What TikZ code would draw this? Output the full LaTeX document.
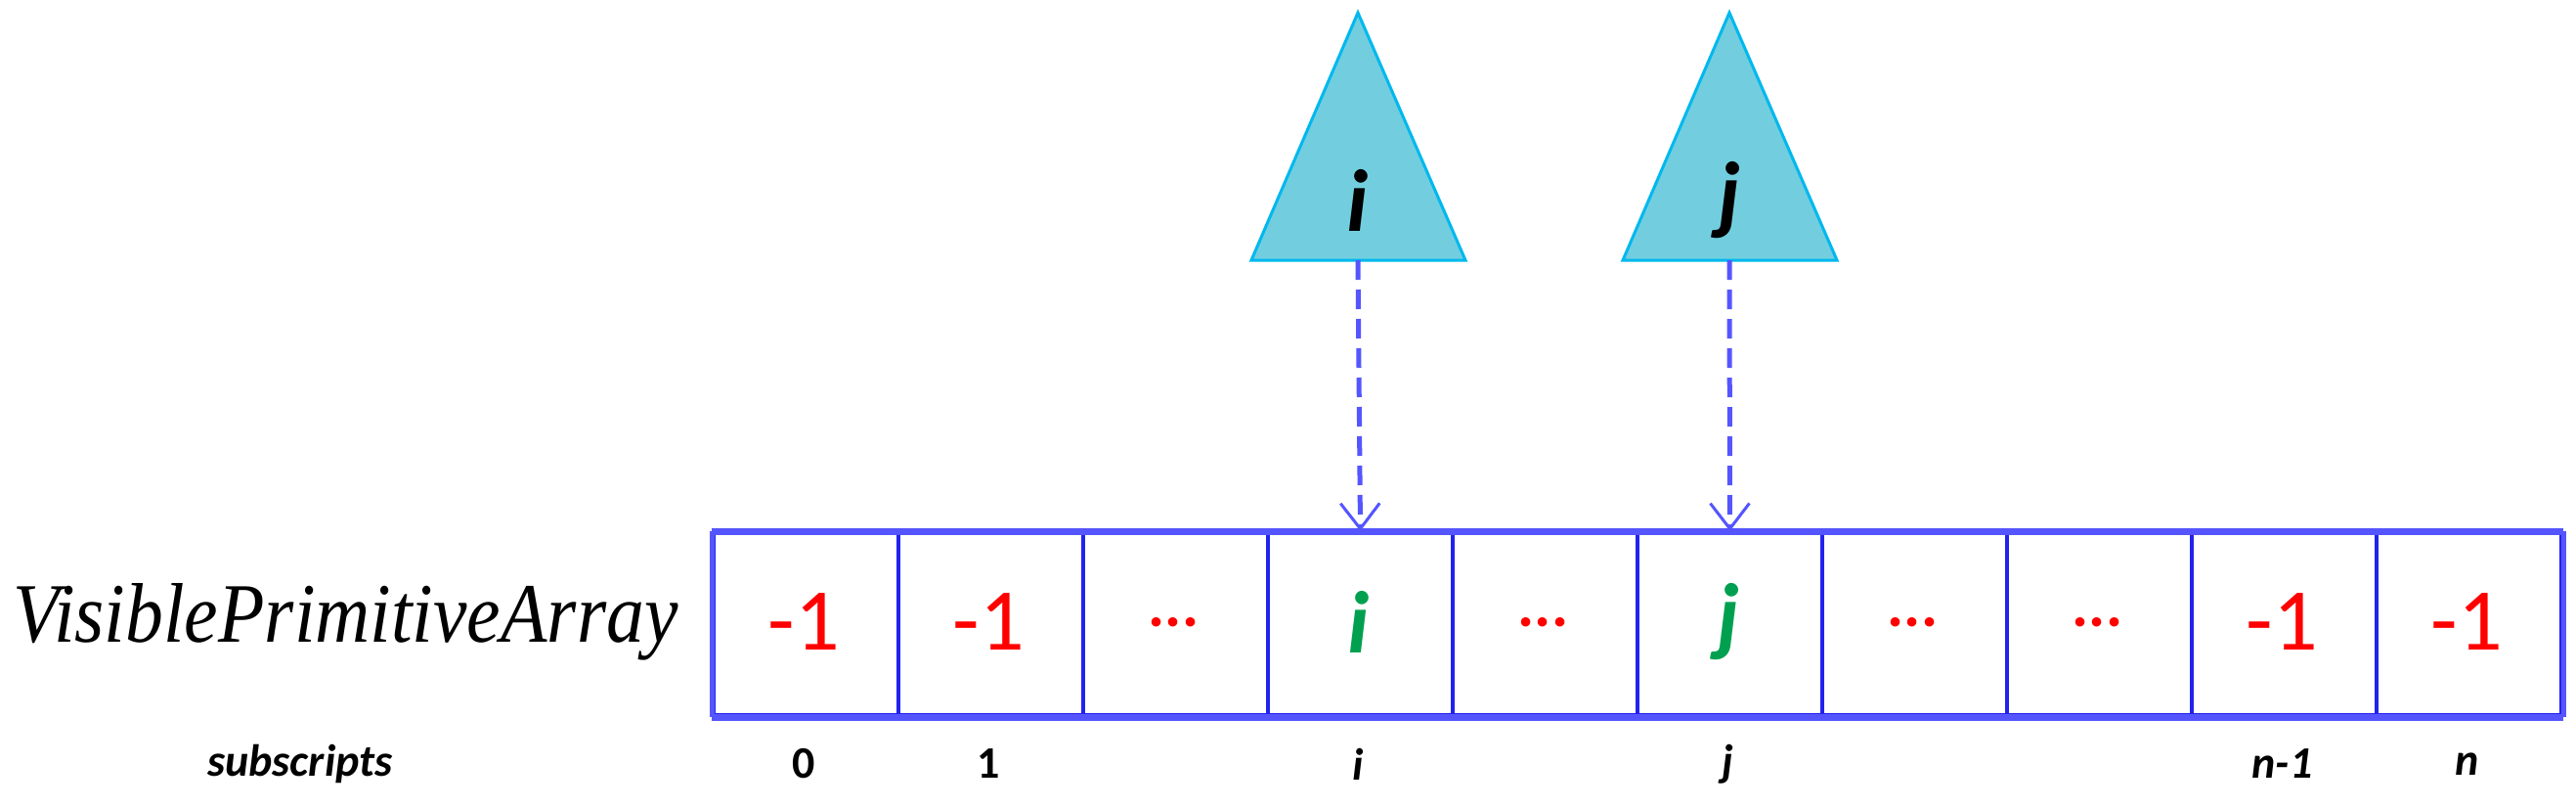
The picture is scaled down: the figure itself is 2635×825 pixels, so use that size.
\documentclass[tikz,border=0pt]{standalone}
\usepackage{fontspec}
\setmainfont{Carlito}
\newfontfamily\lblfont{Liberation Serif}
\usetikzlibrary{arrows.meta}
\definecolor{arr}{HTML}{5555FF}
\definecolor{div}{HTML}{2222EE}
\definecolor{tri}{HTML}{72CEDF}
\definecolor{trib}{HTML}{00B8EE}
\definecolor{grn}{HTML}{00A050}
\tikzset{
 cellbox/.style={draw=div,line width=4pt,minimum width=189pt,minimum height=186pt,inner sep=0pt,anchor=north west},
 val/.style={text=red,font=\fontsize{90}{96}\selectfont},
 dots/.style={text=red,font=\bfseries\fontsize{64}{70}\selectfont},
 gval/.style={text=grn,font=\bfseries\itshape\fontsize{90}{96}\selectfont},
 sub/.style={font=\bfseries\itshape\fontsize{46}{50}\selectfont},
 subu/.style={font=\bfseries\fontsize{46}{50}\selectfont},
 ptr/.style={draw=trib,fill=tri,line width=3pt},
 conn/.style={draw=arr,dashed,dash pattern=on 20pt off 10pt,line width=5pt,-{Straight Barb[length=26pt,width=40pt,line width=3pt]}}
}
\begin{document}
\begin{tikzpicture}[x=1pt,y=-1pt]
\useasboundingbox (0,0) rectangle (2635,825);
\foreach \k/\t/\s in {0/{-1}/val,1/{-1}/val,2/{...}/dots,3/{i}/gval,4/{...}/dots,5/{j}/gval,6/{...}/dots,7/{...}/dots,8/{-1}/val,9/{-1}/val}{
  \node[cellbox] (c\k) at ({728+189*\k},543) {};
  \node[\s] (t\k) at ({728+189*\k+94.5},636) {\t};
}
\draw[draw=arr,line width=7pt] (c0.north west) -- (c9.north east) (c0.south west) -- (c9.south east);
\draw[draw=arr,line width=5pt] (c0.north west) -- (c0.south west) (c9.north east) -- (c9.south east);
\draw[ptr] (1280,266) -- (1389,13) -- (1499,266) -- cycle;
\draw[ptr] (1660,266) -- (1769,13) -- (1879,266) -- cycle;
\node[font=\bfseries\itshape\fontsize{90}{96}\selectfont] (pi) at (1389,205) {i};
\node[font=\bfseries\itshape\fontsize{90}{96}\selectfont] (pj) at (1769,205) {j};
\coordinate (bi) at (1389,266);
\coordinate (bj) at (1769,266);
\draw[conn] (bi) -- (c3.north);
\draw[conn] (bj) -- (c5.north);
\node[anchor=east] (lbl) at (697,636) {\resizebox{680pt}{60pt}{\lblfont\itshape VisiblePrimitiveArray}};
\node[sub,anchor=east] (subl) at (405,781) {subscripts};
\foreach \k/\t/\s in {0/0/subu,1/1/subu,3/i/sub,5/j/sub,8/n-1/sub,9/n/sub}{
  \node[\s] (s\k) at ({728+189*\k+94.5},781) {\t};
}
\end{tikzpicture}
\end{document}
